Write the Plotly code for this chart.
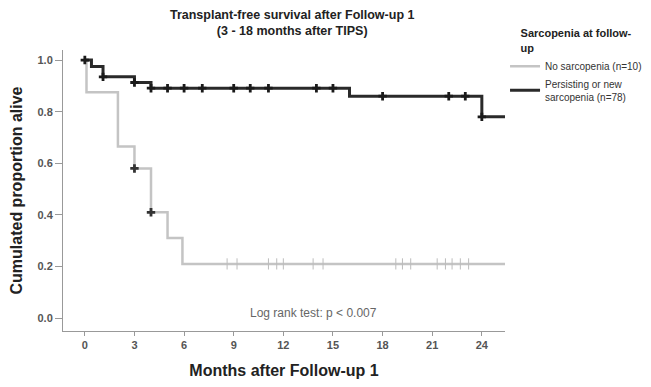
import numpy as np
import plotly.graph_objects as go

# step curves (months, proportion alive)
nosarc_t = [0, 0.1, 2.0, 3.0, 4.0, 5.0, 5.9, 25.6]
nosarc_s = [1.0, 0.875, 0.665, 0.58, 0.41, 0.31, 0.21, 0.21]
nosarc_cens_dark = [3.0, 4.0]
nosarc_cens = [8.6, 9.2, 11.1, 11.6, 12.0, 13.8, 14.4, 18.8, 19.2, 19.7,
               21.3, 21.8, 22.2, 22.7, 23.2]

sarc_t = [0, 0.4, 1.1, 3.0, 4.0, 16.0, 24.0, 25.6]
sarc_s = [1.0, 0.975, 0.935, 0.913, 0.891, 0.86, 0.78, 0.78]
sarc_cens = [0, 1.1, 3.0, 4.0, 5.0, 6.0, 7.1, 9.0, 10.0, 11.1, 14.0, 15.0,
             18.0, 22.0, 23.0, 24.0]

x_ticks = [0, 3, 6, 9, 12, 15, 18, 21, 24]
y_ticks = [0.0, 0.2, 0.4, 0.6, 0.8, 1.0]


def step_at(t, s, pts):
    # value of the KM step function at the censoring times
    idx = np.searchsorted(t, pts, side='right') - 1
    return [s[i] for i in idx]


FONT = 'Liberation Sans, Arial, sans-serif'
fig = go.Figure()

fig.add_trace(go.Scatter(
    x=nosarc_t, y=nosarc_s, mode='lines', line_shape='hv',
    line=dict(color='#c4c4c4', width=2.5),
    name='No sarcopenia (n=10)'))
fig.add_trace(go.Scatter(
    x=sarc_t, y=sarc_s, mode='lines', line_shape='hv',
    line=dict(color='#2a2a2a', width=3),
    name='Persisting or new<br>sarcopenia (n=78)'))

# censor marks
fig.add_trace(go.Scatter(
    x=nosarc_cens, y=step_at(nosarc_t, nosarc_s, nosarc_cens), mode='markers',
    marker=dict(symbol='line-ns-open', size=8, color='#bcbcbc',
                line=dict(color='#bcbcbc', width=1)),
    showlegend=False, hoverinfo='skip'))
fig.add_trace(go.Scatter(
    x=nosarc_cens_dark, y=step_at(nosarc_t, nosarc_s, nosarc_cens_dark), mode='markers',
    marker=dict(symbol='cross', size=7, color='#333'),
    showlegend=False, hoverinfo='skip'))
fig.add_trace(go.Scatter(
    x=sarc_cens, y=step_at(sarc_t, sarc_s, sarc_cens), mode='markers',
    marker=dict(symbol='cross', size=7, color='#1a1a1a'),
    showlegend=False, hoverinfo='skip'))

fig.add_annotation(
    x=13.8, y=0.02, xref='x', yref='y', xanchor='center', yanchor='middle',
    text='Log rank test: p < 0.007', showarrow=False,
    font=dict(family=FONT, size=12, color='#666'))

# page body adds an 8px offset, so the figure is sized to fit the window
fig.update_layout(
    width=643, height=379,
    margin=dict(l=55, r=146, t=42, b=56),
    paper_bgcolor='white', plot_bgcolor='white',
    font=dict(family=FONT, color='#333'),
    title=dict(
        text='<b>Transplant-free survival after Follow-up 1<br>(3 - 18 months after TIPS)</b>',
        x=0.442, xanchor='center', y=0.972, yanchor='top',
        font=dict(family=FONT, size=12.5, color='#222')),
    xaxis=dict(
        range=[-1.32, 25.4], tickvals=x_ticks,
        ticktext=['<b>%d</b>' % v for v in x_ticks], automargin=False,
        showgrid=False, zeroline=False, showline=True, linecolor='#999', linewidth=1,
        ticks='outside', ticklen=4, tickcolor='#999',
        tickfont=dict(family=FONT, size=11, color='#555'),
        title=dict(text='<b>Months after Follow-up 1</b>', standoff=14,
                   font=dict(family=FONT, size=16, color='#222'))),
    yaxis=dict(
        range=[-0.05, 1.039], tickvals=y_ticks,
        ticktext=['<b>%.1f</b>' % v for v in y_ticks], automargin=False,
        showgrid=False, zeroline=False, showline=True, linecolor='#999', linewidth=1,
        ticks='outside', ticklen=7, tickcolor='#999',
        tickfont=dict(family=FONT, size=11, color='#555'),
        title=dict(text='<b>Cumulated proportion alive</b>', standoff=12,
                   font=dict(family=FONT, size=16, color='#222'))),
    legend=dict(
        xref='container', yref='container',
        x=0.773, xanchor='left', y=0.96, yanchor='top',
        itemwidth=30, tracegroupgap=0,
        title=dict(text='<b>Sarcopenia at follow-<br>up</b>', side='top center',
                   font=dict(family=FONT, size=11, color='#222')),
        font=dict(family=FONT, size=10, color='#333'),
        bgcolor='rgba(0,0,0,0)'),
)

fig.write_html("out.html")
